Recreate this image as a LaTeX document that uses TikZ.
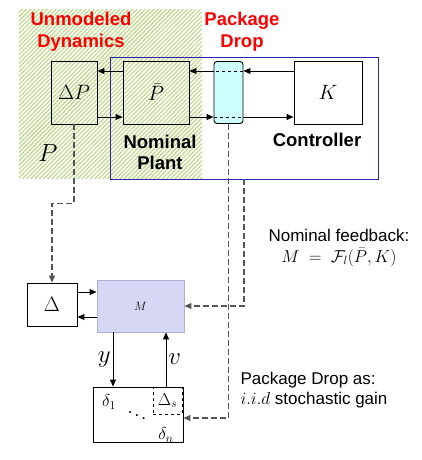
\documentclass[tikz,border=0pt]{standalone}
\usepackage{amsmath}
\usepackage{fontspec}
\setmainfont{Liberation Sans}
\usetikzlibrary{arrows.meta,patterns.meta}

\definecolor{hatch}{RGB}{185,215,130}
\definecolor{loopblue}{RGB}{40,40,170}
\definecolor{dropfill}{RGB}{204,255,255}
\definecolor{mfill}{RGB}{214,214,245}
\definecolor{mdraw}{RGB}{175,175,215}
\definecolor{dashgray}{RGB}{85,85,85}

\begin{document}
\begin{tikzpicture}[
    x=1pt, y=-1pt,
    block/.style={rectangle, draw, line width=0.9pt, inner sep=0pt},
    arrow/.style={-{Triangle[length=7pt,width=6pt]}, line width=0.9pt},
    dasharrow/.style={-{Triangle[length=7pt,width=6pt]}, dashgray,
                      line width=1.2pt, dash pattern=on 6pt off 3pt},
    redlabel/.style={text=red, font=\fontsize{18.5}{22}\selectfont\bfseries, align=center},
    blacklabel/.style={font=\fontsize{18.5}{21}\selectfont\bfseries, align=center},
    note/.style={font=\fontsize{17}{20.5}\selectfont},
    mth/.style={font=\fontsize{21}{24}\selectfont},
    sig/.style={font=\fontsize{24}{26}\selectfont, inner sep=1pt},
    small/.style={font=\fontsize{17}{19}\selectfont, inner sep=1pt}
]
    \useasboundingbox (0,0) rectangle (421,460);

    % uncertain plant area
    \fill[pattern={Lines[angle=45,distance=3pt,line width=1.1pt]}, pattern color=hatch]
        (19,10) rectangle (202,178);
    \node[draw=loopblue, line width=0.9pt, minimum width=268pt, minimum height=122pt,
          inner sep=0pt] (loop) at (244,118) {};

    \node[block, minimum width=46pt, minimum height=63pt, mth] (dP)   at (74,92.5)  {$\Delta P$};
    \node[block, minimum width=66pt, minimum height=63pt, mth] (Pbar) at (156,92.5) {$\bar{P}$};
    \node[block, fill=dropfill, rounded corners=3pt, minimum width=29pt,
          minimum height=62pt] (drop) at (228.5,92.5) {};
    \node[block, fill=white, minimum width=68pt, minimum height=63pt, mth] (K) at (328,92.5) {$K$};

    \node[redlabel]   (unmod)   at (81,32)   {Unmodeled\\Dynamics};
    \node[redlabel]   (pdrop)   at (242,32)  {Package\\Drop};
    \node[blacklabel] (nomlbl)  at (160,152) {Nominal\\Plant};
    \node[blacklabel] (ctrllbl) at (317,140) {Controller};
    \node[font=\fontsize{26}{30}\selectfont] (Plbl) at (48,153) {$P$};

    % loop signals
    \draw[arrow] ([yshift=21.5pt]K.west) -- ([yshift=21.5pt]drop.east);
    \draw[dashed, line width=0.7pt] ([yshift=21.5pt]drop.east) -- ([yshift=21.5pt]drop.west);
    \draw[arrow] ([yshift=21.5pt]drop.west) -- ([yshift=21.5pt]Pbar.east);
    \draw[arrow] ([yshift=21.5pt]Pbar.west) -- ([yshift=21.5pt]dP.east);
    \draw[arrow] ([yshift=-24.5pt]dP.east) -- ([yshift=-24.5pt]Pbar.west);
    \draw[arrow] ([yshift=-24.5pt]Pbar.east) -- ([yshift=-24.5pt]drop.west);
    \draw[dashed, line width=0.7pt] ([yshift=-24.5pt]drop.west) -- ([yshift=-24.5pt]drop.east);
    \draw[arrow] ([yshift=-24.5pt]drop.east) -- ([yshift=-24.5pt]K.west);

    % M-Delta form
    \node[block, minimum width=50pt, minimum height=43pt, mth] (Delta) at (52,304.5) {$\Delta$};
    \node[rectangle, fill=mfill, draw=mdraw, line width=0.9pt, minimum width=87pt,
          minimum height=52pt, font=\fontsize{12}{14}\selectfont] (M) at (140.5,306) {$M$};
    \node[block, minimum width=90pt, minimum height=55pt] (blk) at (138,414.5) {};
    \node[block, dashed, line width=0.7pt, minimum width=29pt, minimum height=27pt,
          font=\fontsize{17}{19}\selectfont] (Ds) at (167.5,400.5) {$\Delta_s$};
    \node[small] (d1)    at (109,402) {$\delta_1$};
    \node[small] (ddots) at (137,413) {$\ddots$};
    \node[small] (dn)    at (166,435) {$\delta_n$};

    \draw[arrow] ([yshift=12.5pt]Delta.east) -- ([yshift=14pt]M.west);
    \draw[arrow] ([yshift=-11pt]M.west) -- ([yshift=-12.5pt]Delta.east);
    \coordinate (yout) at ([xshift=-27.5pt]M.south);
    \coordinate (vin)  at ([xshift=25.5pt]M.south);
    \draw[arrow] (yout) -- node[left=1pt, sig] {$y$} (yout |- blk.north);
    \draw[arrow] (vin |- blk.north) -- node[right=1pt, sig] {$v$} (vin);

    % links to the loop
    \draw[dasharrow] (dP.south) -- ++(0,79) -| (Delta.north);
    \draw[dasharrow] (drop.south) |- ([yshift=-3.5pt]blk.east);
    \draw[dasharrow] (loop.south) |- (M.east);

    \node[note, align=center] (fbnote) at (339,248)
        {Nominal feedback:\\$M~=~\mathcal{F}_l(\bar{P},K)$};
    \node[note, align=left, anchor=west] (pdnote) at (237,390)
        {Package Drop as:\\$i.i.d$ stochastic gain};
\end{tikzpicture}
\end{document}
